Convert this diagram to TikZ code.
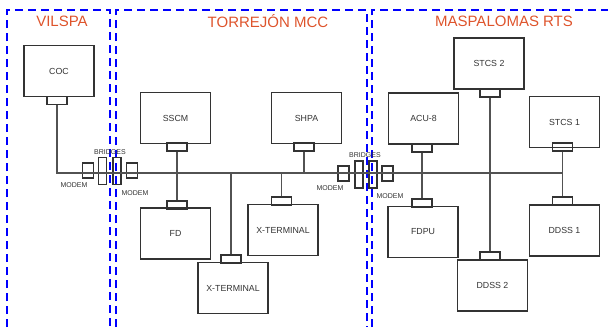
\documentclass[tikz,border=0pt]{standalone}
\usepackage{fontspec}
\setmainfont{Liberation Sans}
\definecolor{sitered}{RGB}{222,84,44}
\definecolor{boxgray}{RGB}{51,51,51}
\tikzset{
  unit/.style={draw=boxgray, line width=1.1pt, minimum width=70pt, minimum height=51pt, inner sep=0pt, text=boxgray, font=\fontsize{8.8}{10}\selectfont},
  port/.style={draw=boxgray, line width=1.1pt, minimum width=20pt, minimum height=8pt, inner sep=0pt},
  modem/.style={draw=boxgray, line width=1.1pt, minimum width=11pt, minimum height=15pt, inner sep=0pt},
  bridge/.style={draw=boxgray, line width=1.1pt, minimum width=8pt, minimum height=27pt, inner sep=0pt},
  tag/.style={text=boxgray, font=\fontsize{7}{8}\selectfont, inner sep=0pt},
  site/.style={text=sitered, font=\fontsize{15}{17}\selectfont, inner sep=0pt},
  zone/.style={blue, line width=2.5pt, dash pattern=on 8pt off 5pt},
  link/.style={draw=boxgray!85, line width=1.1pt}
}
\begin{document}
\begin{tikzpicture}[x=1pt, y=-1pt]
	\useasboundingbox (0,0) rectangle (608,327);
	% sites
	\draw[zone] (7,327) -- (7,10) -- (110,10) -- (110,327);
	\draw[zone] (116,327) -- (116,10) -- (367,10) -- (367,327);
	\draw[zone] (372,327) -- (372,10) -- (608,10);
	\node[site] (vilspa) at (62,21) {VILSPA};
	\node[site] (torrejon) at (268,21.5) {TORREJÓN MCC};
	\node[site] (maspalomas) at (504,21) {MASPALOMAS RTS};
	% units
	\node[unit] (coc) at (59,71) {COC};
	\node[unit] (sscm) at (175.5,118) {SSCM};
	\node[unit] (fd) at (175.5,233.5) {FD};
	\node[unit] (shpa) at (306.5,118) {SHPA};
	\node[unit] (xta) at (283,230) {X-TERMINAL};
	\node[unit] (xtb) at (233,288) {X-TERMINAL};
	\node[unit] (stcstwo) at (489,63.5) {STCS 2};
	\node[unit] (acu) at (423.5,118.5) {ACU-8};
	\node[unit] (stcsone) at (564.5,122) {STCS 1};
	\node[unit] (fdpu) at (423,232) {FDPU};
	\node[unit] (ddssone) at (564.5,230.5) {DDSS 1};
	\node[unit] (ddsstwo) at (492.5,285.5) {DDSS 2};
	% ports
	\node[port] (cocport) at (57,100.5) {};
	\node[port] (sscmport) at (177,147) {};
	\node[port] (fdport) at (177,205) {};
	\node[port] (shpaport) at (304,147) {};
	\node[port] (xtaport) at (281.5,201) {};
	\node[port] (xtbport) at (231,259) {};
	\node[port] (stcstwoport) at (490,93) {};
	\node[port] (ddsstwoport) at (490,256) {};
	\node[port] (acuport) at (422,148) {};
	\node[port] (fdpuport) at (422,203) {};
	\node[port] (stcsoneport) at (562.5,147) {};
	\node[port] (ddssoneport) at (562.5,201) {};
	% modems and bridges
	\node[modem] (modema) at (88,170.5) {};
	\node[bridge] (bridgea) at (102.5,171) {};
	\node[bridge] (bridgeb) at (117,171) {};
	\node[modem] (modemb) at (132,170.5) {};
	\node[modem] (modemc) at (343.5,173.5) {};
	\node[bridge] (bridgec) at (359,174.5) {};
	\node[bridge] (bridged) at (373,174.5) {};
	\node[modem] (modemd) at (387.5,173.5) {};
	\node[tag] (bridgestag) at (110,152) {BRIDGES};
	\node[tag] (bridgestagb) at (365,155) {BRIDGES};
	\node[tag] (modemtaga) at (74,185) {MODEM};
	\node[tag] (modemtagb) at (135,193) {MODEM};
	\node[tag] (modemtagc) at (330,188) {MODEM};
	\node[tag] (modemtagd) at (390,196) {MODEM};
	% network
	\coordinate (busend) at (562.5,173);
	\draw[link] (cocport.south) |- (busend);
	\draw[link] (sscmport.south) -- (fdport.north);
	\draw[link] (shpaport.south) -- (shpaport |- busend);
	\draw[link] (xtaport.north) -- (xtaport |- busend);
	\draw[link] (xtbport.north) -- (xtbport |- busend);
	\draw[link] (stcstwoport.south) -- (ddsstwoport.north);
	\draw[link] (acuport.south) -- (fdpuport.north);
	\draw[link] (stcsoneport.south) -- (ddssoneport.north);
\end{tikzpicture}
\end{document}
